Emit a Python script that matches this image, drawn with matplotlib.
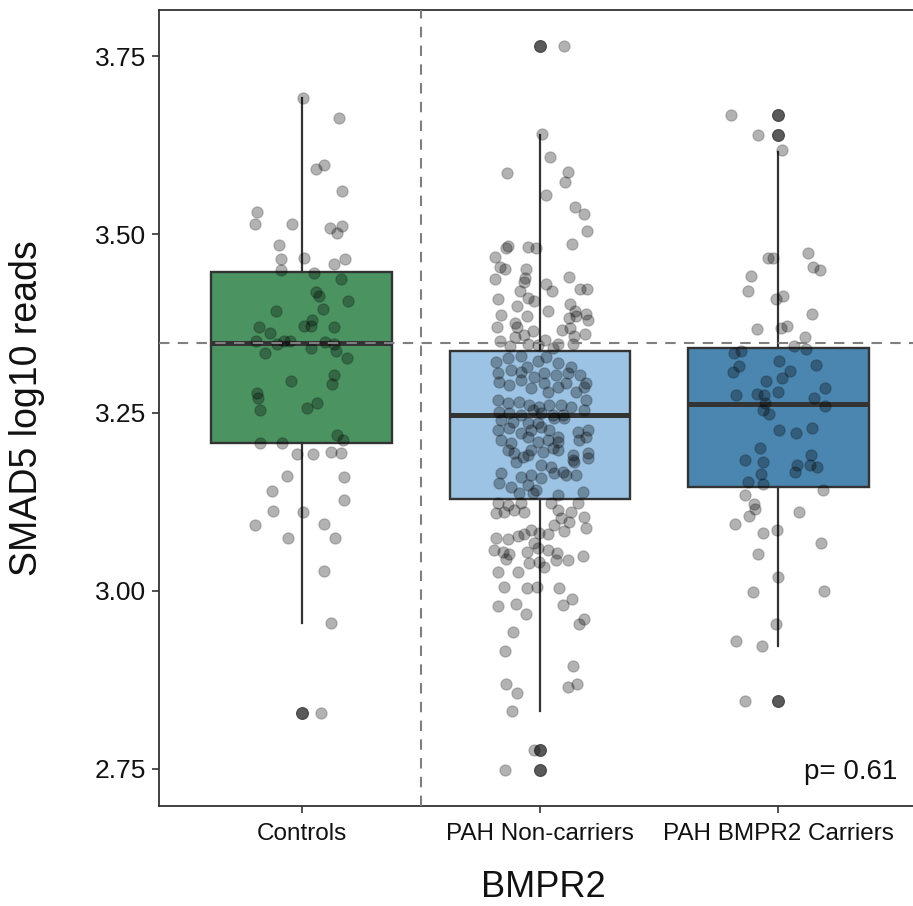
import numpy as np
import matplotlib
matplotlib.use('Agg')
import matplotlib.pyplot as plt

plt.rcParams['font.family'] = ['Liberation Sans', 'DejaVu Sans']

# ====== data ======
groups = ['Controls', 'PAH Non-carriers', 'PAH BMPR2 Carriers']
box_colors = ['#4b9462', '#9cc3e3', '#4a86b0']

# box statistics
q1 = [3.208, 3.129, 3.145]
med = [3.348, 3.246, 3.262]
q3 = [3.447, 3.336, 3.341]
whis_lo = [2.955, 2.832, 2.922]
whis_hi = [3.691, 3.640, 3.616]
outliers = [[2.829], [3.764, 2.776, 2.749], [3.667, 3.640, 2.846]]

control_median = 3.348
p_text = 'p= 0.61'

# jittered points: value and horizontal jitter
controls_vals = [3.691, 3.663, 3.592, 3.598, 3.561, 3.532, 3.515, 3.514, 3.509, 3.512,
                 3.502, 3.485, 3.467, 3.465, 3.465, 3.458, 3.450, 3.446, 3.437, 3.419,
                 3.413, 3.407, 3.393, 3.396, 3.380, 3.371, 3.371, 3.370, 3.370, 3.362,
                 3.350, 3.347, 3.351, 3.350, 3.349, 3.347, 3.334, 3.341, 3.336, 3.326,
                 3.303, 3.294, 3.290, 3.278, 3.270, 3.254, 3.264, 3.256, 3.218, 3.212,
                 3.208, 3.208, 3.192, 3.192, 3.195, 3.193, 3.161, 3.160, 3.140, 3.128,
                 3.112, 3.111, 3.092, 3.094, 3.074, 3.074, 3.028, 2.955, 2.829]
controls_jit = [0.003, 0.157, 0.058, 0.094, 0.168, -0.188, -0.195, -0.043, 0.118, 0.169,
                0.148, -0.098, 0.007, -0.088, 0.182, 0.137, -0.088, 0.052, 0.163, 0.058,
                0.070, 0.192, -0.109, 0.089, 0.043, 0.007, 0.038, 0.133, -0.179, -0.134,
                -0.193, -0.104, -0.050, -0.074, 0.097, 0.134, -0.155, 0.037, 0.143, 0.188,
                0.136, -0.047, 0.125, -0.190, -0.184, -0.174, 0.062, 0.020, 0.146, 0.174,
                -0.174, -0.084, -0.022, 0.045, 0.123, 0.164, -0.062, 0.178, -0.125, 0.175,
                -0.121, 0.003, -0.196, 0.095, -0.058, 0.139, 0.091, 0.121, 0.080]

noncarr_vals = [3.764,
                3.641, 3.609, 3.586, 3.587, 3.574, 3.555, 3.539, 3.529, 3.505, 3.484,
                3.481, 3.483, 3.481, 3.486, 3.469, 3.454, 3.451, 3.452, 3.439, 3.434,
                3.437, 3.441, 3.430, 3.421, 3.421, 3.423, 3.423, 3.410, 3.411, 3.407,
                3.399, 3.393, 3.402, 3.393, 3.387, 3.386, 3.386, 3.389, 3.380, 3.383,
                3.376, 3.370, 3.370, 3.365, 3.366, 3.369, 3.361, 3.358, 3.351, 3.356,
                3.359, 3.352, 3.347, 3.344, 3.347, 3.345, 3.346, 3.341,
                3.321, 3.327, 3.330, 3.314, 3.323, 3.328, 3.319, 3.314, 3.303, 3.291,
                3.286, 3.305, 3.310, 3.307, 3.300, 3.305, 3.303, 3.305, 3.293, 3.289,
                3.296, 3.284, 3.291, 3.279, 3.286, 3.291, 3.279, 3.268, 3.268, 3.263,
                3.265, 3.261, 3.258, 3.261, 3.261, 3.258, 3.254, 3.251, 3.249, 3.247,
                3.254, 3.249, 3.247, 3.247, 3.240, 3.237, 3.235, 3.235, 3.242, 3.243,
                3.226, 3.228, 3.221, 3.226, 3.230, 3.226, 3.216, 3.223, 3.226, 3.216,
                3.212, 3.207, 3.216, 3.209, 3.212, 3.209, 3.212, 3.198, 3.193, 3.188,
                3.198, 3.195, 3.200, 3.198, 3.191, 3.193, 3.186, 3.181, 3.191, 3.177,
                3.174, 3.167, 3.184, 3.181, 3.165, 3.151, 3.146, 3.160, 3.163, 3.158,
                3.165, 3.163, 3.163, 3.149, 3.137, 3.137, 3.142, 3.135, 3.139,
                3.123, 3.121, 3.123, 3.109, 3.111, 3.114, 3.111, 3.123, 3.114, 3.111,
                3.123, 3.104, 3.102, 3.097, 3.093, 3.088, 3.086, 3.079, 3.081, 3.079,
                3.084, 3.074, 3.072, 3.077, 3.067,
                3.057, 3.054, 3.052, 3.045, 3.055, 3.060, 3.057, 3.053, 3.043, 3.043,
                3.049, 3.039, 3.027, 3.027, 3.041, 3.033, 3.006, 3.004, 3.006, 3.004,
                2.989, 2.980, 2.979, 2.981, 2.968, 2.961, 2.954, 2.942, 2.915, 2.894,
                2.869, 2.856, 2.865, 2.869, 2.831, 2.776, 2.749]
noncarr_jit = [0.100,
               0.007, 0.043, -0.139, 0.119, 0.106, 0.027, 0.146, 0.185, 0.197, -0.133,
               -0.141, -0.052, -0.015, 0.136, -0.189, -0.167, -0.147, -0.057, -0.064, -0.066,
               -0.188, 0.122, 0.027, 0.050, -0.085, 0.168, 0.196, -0.178, -0.049, -0.024,
               -0.098, 0.032, 0.125, 0.147, -0.162, -0.055, 0.153, 0.192, 0.200, 0.122,
               -0.105, -0.098, -0.182, -0.029, 0.091, 0.126, 0.189, 0.141, -0.169, -0.104,
               -0.066, 0.021, 0.139, -0.125, -0.052, -0.010, 0.077, 0.053,
               -0.185, -0.133, -0.080, -0.055, -0.007, 0.025, 0.074, 0.130, 0.169, 0.193,
               0.186, -0.178, -0.122, -0.080, -0.024, 0.018, 0.067, 0.116, -0.171, -0.129,
               -0.080, -0.038, 0.015, 0.032, 0.074, 0.109, 0.151, 0.193, -0.178, -0.136,
               -0.087, -0.045, -0.003, 0.039, 0.088, 0.130, 0.183, -0.171, -0.129, -0.080,
               -0.031, 0.004, 0.053, 0.095, -0.164, -0.115, -0.052, -0.010, 0.060, 0.102,
               -0.178, -0.129, -0.080, -0.038, 0.004, 0.039, 0.074, 0.158, 0.200, 0.193,
               -0.164, -0.122, -0.052, -0.010, 0.032, 0.074, 0.165, -0.136, -0.108, -0.073,
               -0.038, 0.011, 0.053, 0.074, 0.137, 0.200, 0.200, -0.101, -0.052, 0.004,
               0.046, 0.095, 0.137, 0.144, -0.164, -0.171, -0.122, -0.080, -0.038, 0.004,
               0.060, 0.109, 0.151, -0.052, -0.087, -0.031, -0.017, 0.074, 0.179,
               -0.178, -0.136, -0.080, -0.185, -0.150, -0.108, -0.066, 0.046, 0.074, 0.130,
               0.158, 0.186, 0.088, 0.123, 0.060, 0.193, -0.038, -0.066, -0.003, 0.032,
               0.102, -0.185, -0.136, -0.094, -0.024,
               -0.192, -0.157, -0.129, -0.143, -0.055, -0.010, 0.032, 0.071, 0.069, 0.119,
               0.182, -0.045, -0.094, -0.178, -0.003, 0.018, -0.150, -0.055, -0.013, 0.078,
               0.133, 0.095, -0.175, -0.102, -0.059, 0.186, 0.162, -0.115, -0.148, 0.137,
               -0.141, -0.097, 0.119, 0.157, -0.116, -0.027, -0.147]

carriers_vals = [3.667, 3.640, 3.618, 3.467, 3.467, 3.474, 3.455, 3.450, 3.442, 3.421,
                 3.409, 3.413, 3.389, 3.368, 3.369, 3.372, 3.356, 3.343, 3.339, 3.334,
                 3.337, 3.316, 3.307, 3.323, 3.308, 3.317, 3.295, 3.299, 3.285, 3.275,
                 3.276, 3.275, 3.279, 3.270, 3.263, 3.259, 3.253, 3.248, 3.225, 3.221,
                 3.228, 3.200, 3.183, 3.181, 3.191, 3.176, 3.177, 3.174, 3.167, 3.164,
                 3.152, 3.150, 3.141, 3.134, 3.122, 3.115, 3.105, 3.110, 3.094, 3.081,
                 3.085, 3.067, 3.052, 3.020, 2.998, 3.000, 2.953, 2.929, 2.922, 2.846]
carriers_jit = [-0.196, -0.084, 0.018, -0.043, -0.020, 0.127, 0.146, 0.174, -0.113, -0.125,
                -0.007, 0.020, 0.144, -0.088, 0.013, 0.039, 0.111, 0.067, 0.118, -0.184,
                -0.154, -0.165, -0.190, 0.004, 0.050, 0.160, -0.050, 0.016, 0.196, -0.178,
                -0.087, -0.059, -0.001, 0.150, -0.055, 0.197, -0.062, -0.037, 0.005, 0.076,
                0.143, -0.076, -0.140, -0.062, 0.139, 0.079, 0.134, 0.165, 0.071, -0.071,
                -0.126, -0.062, 0.189, -0.139, -0.101, -0.098, -0.121, 0.087, -0.182, -0.062,
                -0.005, 0.179, -0.084, 0.000, -0.106, 0.193, -0.011, -0.178, -0.067, -0.140]

point_vals = [controls_vals, noncarr_vals, carriers_vals]
point_jit = [controls_jit, noncarr_jit, carriers_jit]

# ====== figure ======
fig = plt.figure(figsize=(9.13, 9.06), dpi=100)
ax = fig.add_axes([159 / 913, 100 / 906, 762 / 913, 796 / 906])

positions = np.arange(1, len(groups) + 1)
stats = []
for i in range(len(groups)):
    stats.append(dict(label=groups[i], q1=q1[i], med=med[i], q3=q3[i],
                      whislo=whis_lo[i], whishi=whis_hi[i],
                      fliers=np.array(outliers[i])))

bp = ax.bxp(stats, positions=positions, widths=0.76, patch_artist=True,
            showcaps=False,
            boxprops=dict(edgecolor='#333333', linewidth=1.7),
            whiskerprops=dict(color='#333333', linewidth=1.6),
            medianprops=dict(color='#333333', linewidth=3.6, solid_capstyle='butt'),
            flierprops=dict(marker='o', markerfacecolor='#5a5a5a',
                            markeredgecolor='#4a4a4a', markersize=8.3))
for patch, c in zip(bp['boxes'], box_colors):
    patch.set_facecolor(c)

# jittered points
for pos, vals, jit in zip(positions, point_vals, point_jit):
    ax.scatter(pos + np.array(jit), vals, s=66, facecolor=(0, 0, 0, 0.3),
               edgecolor=(0, 0, 0, 0.2), linewidth=0.9, zorder=3)

# reference lines
ax.axhline(control_median, color='#7f7f7f', lw=1.5, ls=(0, (5, 4)), zorder=4)
ax.axvline(1.5, color='#7f7f7f', lw=1.5, ls=(0, (5, 4)), zorder=4)

ax.text(3.5, 2.746, p_text, ha='right', va='center', fontsize=20, color='#111111')

# ====== axes styling ======
ax.set_xlim(0.4, 3.6)
ax.set_ylim(2.698, 3.815)
yticks = [2.75, 3.00, 3.25, 3.50, 3.75]
ax.set_yticks(yticks, [f'{t:.2f}' for t in yticks], fontsize=19)
ax.set_xticks(positions, groups, fontsize=17.5)
ax.tick_params(axis='both', length=5, width=1.2, color='#333333', labelcolor='#111111')
ax.tick_params(axis='x', pad=7)
ax.tick_params(axis='y', pad=4)
for sp in ax.spines.values():
    sp.set_color('#333333')
    sp.set_linewidth(1.3)

ax.set_ylabel('SMAD5 log10 reads', fontsize=27, color='#111111')
ax.set_xlabel('BMPR2', fontsize=26, color='#111111')
ax.yaxis.set_label_coords(-0.150, 0.5)
ax.xaxis.set_label_coords(0.505, -0.08)

fig.savefig('out.png', dpi=100)
